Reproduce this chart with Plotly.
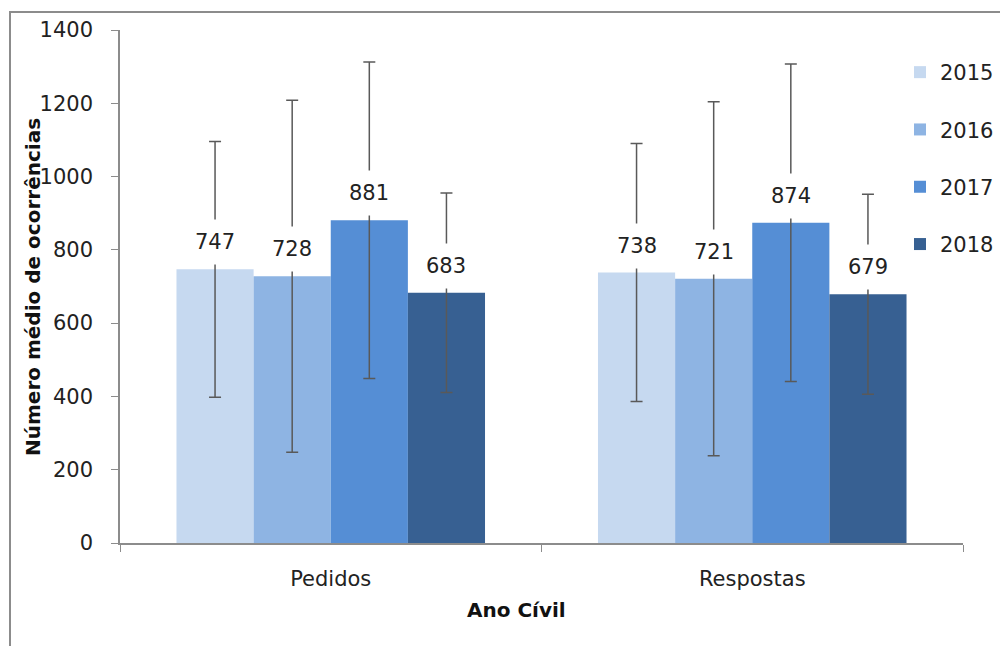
import plotly.graph_objects as go

categories = ["Pedidos", "Respostas"]
years = ["2015", "2016", "2017", "2018"]
means = {
    "2015": [747, 738],
    "2016": [728, 721],
    "2017": [881, 874],
    "2018": [683, 679],
}
errors = {
    "2015": [349, 352],
    "2016": [480, 483],
    "2017": [432, 433],
    "2018": [272, 273],
}
colors = ["#C6D9F0", "#8EB4E3", "#558ED5", "#376092"]

FONT = "DejaVu Sans"
W, H = 1008, 646
OFF = 8  # page offset of the figure inside the browser window
# plot area in window coordinates
PL, PT, PR, PB = 120, 30, 963, 543
ML, MT = PL - OFF, PT - OFF
MR, MB = W - (PR - OFF), H - (PB - OFF)
BARGAP = 0.268
plot_w = PR - PL
plot_h = PB - PT


def px(xw):
    return (xw - PL) / plot_w


def py(yw):
    return (PB - yw) / plot_h


fig = go.Figure()
for i, y in enumerate(years):
    fig.add_trace(go.Bar(
        name=y, x=categories, y=means[y],
        marker=dict(color=colors[i], line=dict(width=0)),
        error_y=dict(type="data", array=errors[y], visible=True,
                     color="#595959", thickness=1.5, width=6),
        legendgroup=y,
    ))

# data labels with white background (covering error bars like the original)
cat_w = plot_w / len(categories)
bar_w = cat_w * (1 - BARGAP) / len(years)
for i, y in enumerate(years):
    for c, v in zip(categories, means[y]):
        fig.add_annotation(
            x=c, y=v, xref="x", yref="y", text=str(v), showarrow=False,
            xshift=(i - (len(years) - 1) / 2) * bar_w, yshift=4,
            xanchor="center", yanchor="bottom", bgcolor="white", borderpad=10,
            font=dict(family=FONT, size=21, color="#222222"),
        )

fig.add_annotation(x=px(516), y=py(610), xref="paper", yref="paper",
                   text="<b>Ano Cívil</b>", xanchor="center", yanchor="middle",
                   showarrow=False, font=dict(family=FONT, size=20, color="#111111"))
fig.add_annotation(x=px(33), y=py(287), xref="paper", yref="paper",
                   text="<b>Número médio de ocorrências</b>", textangle=-90,
                   xanchor="center", yanchor="middle",
                   showarrow=False, font=dict(family=FONT, size=20, color="#111111"))

# outer chart frame (cropped at right and bottom)
fig.add_shape(type="rect", xref="paper", yref="paper",
              x0=px(OFF + 2), x1=1.2, y0=-0.4, y1=py(12),
              line=dict(color="#8C8C8C", width=2), layer="below")

fig.update_layout(
    width=W, height=H,
    margin=dict(l=ML, r=MR, t=MT, b=MB, autoexpand=False),
    barmode="group", bargap=BARGAP, bargroupgap=0,
    plot_bgcolor="white", paper_bgcolor="white",
    font=dict(family=FONT, size=21, color="#222222"),
    showlegend=True,
    legend=dict(x=px(900), y=py(52), xanchor="left", yanchor="top",
                tracegroupgap=27, font=dict(size=21), bgcolor="rgba(0,0,0,0)"),
    xaxis=dict(showline=True, linecolor="#8C8C8C", linewidth=1.5,
               ticks="outside", tickson="boundaries", ticklen=7, tickcolor="#8C8C8C",
               tickfont=dict(size=21), ticklabelstandoff=16, showgrid=False),
    yaxis=dict(range=[0, 1400], dtick=200, showline=True, linecolor="#8C8C8C",
               linewidth=1.5, ticks="outside", ticklen=7, tickcolor="#8C8C8C",
               tickfont=dict(size=21), ticklabelstandoff=14, showgrid=False,
               zeroline=False),
)

fig.write_html("out.html")
